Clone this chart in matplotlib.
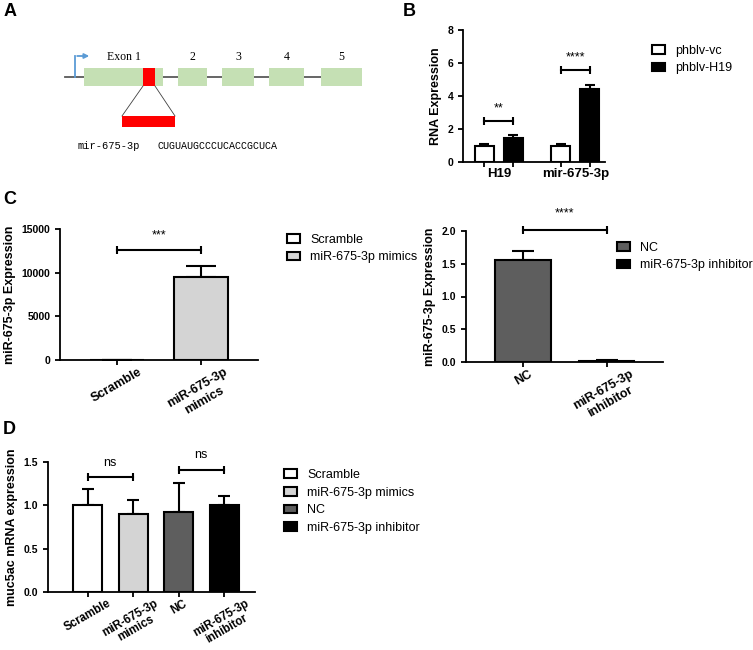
import matplotlib.pyplot as plt
from matplotlib.patches import Patch, Rectangle
from matplotlib.transforms import blended_transform_factory

plt.rcParams['font.family'] = 'Liberation Sans'
plt.rcParams['axes.linewidth'] = 1.3
plt.rcParams['xtick.major.width'] = 1.3
plt.rcParams['ytick.major.width'] = 1.3
plt.rcParams['xtick.major.size'] = 3.5
plt.rcParams['ytick.major.size'] = 3.5
plt.rcParams['xtick.major.pad'] = 1

# Panel A - gene schematic (positions along the locus)
exon_labels = ["Exon 1", "2", "3", "4", "5"]
exon_start = [84, 178, 222, 269, 321]
exon_end = [163, 207, 254, 304, 362]
tss = 75
mir_start, mir_end = 143, 155
mir_zoom = [122, 175]
mir_name = "mir-675-3p"
mir_seq = "CUGUAUGCCCUCACCGCUCA"

# Panel B
b_groups = ["H19", "mir-675-3p"]
b_series = ["phblv-vc", "phblv-H19"]
b_vc = [1.0, 1.0]
b_vc_err = [0.07, 0.1]
b_h19 = [1.45, 4.45]
b_h19_err = [0.17, 0.2]
b_sig = ["**", "****"]
b_sig_y = [2.5, 5.6]

# Panel C left
c1_labels = ["Scramble", "miR-675-3p\nmimics"]
c1_legend = ["Scramble", "miR-675-3p mimics"]
c1_values = [1, 9500]
c1_err = [0, 1300]

# Panel C right
c2_labels = ["NC", "miR-675-3p\ninhibitor"]
c2_legend = ["NC", "miR-675-3p inhibitor"]
c2_values = [1.55, 0.02]
c2_err = [0.14, 0.005]

# Panel D
d_labels = ["Scramble", "miR-675-3p\nmimics", "NC", "miR-675-3p\ninhibitor"]
d_legend = ["Scramble", "miR-675-3p mimics", "NC", "miR-675-3p inhibitor"]
d_values = [1.0, 0.9, 0.92, 1.0]
d_err = [0.19, 0.165, 0.34, 0.11]

c_scr, c_mim, c_nc, c_inh = "white", "#d4d4d4", "#5e5e5e", "black"

W, H = 753, 650
fig = plt.figure(figsize=(W / 100, H / 100), dpi=100)


def box(l, t, r, b):
    return [l / W, 1 - b / H, (r - l) / W, (b - t) / H]


def style(ax):
    ax.spines['top'].set_visible(False)
    ax.spines['right'].set_visible(False)
    for lab in ax.get_yticklabels():
        lab.set_fontweight('bold')
        lab.set_fontsize(7.5)


def bracket(ax, x1, x2, y, ty, text):
    ax.plot([x1, x2], [y, y], color='black', lw=1.5, marker='|', ms=6, mew=1.5, clip_on=False)
    ax.text((x1 + x2) / 2, ty, text, ha='center', va='center', fontsize=9, clip_on=False)


def legend(ax, colors, labels, x, y):
    handles = [Patch(facecolor=c, edgecolor='black', lw=1.5) for c in colors]
    ax.legend(handles, labels, loc='center left', bbox_to_anchor=(x / W, 1 - y / H),
              bbox_transform=fig.transFigure, frameon=False, fontsize=9,
              handlelength=1.05, handleheight=0.7, handletextpad=0.8,
              labelspacing=0.45, borderpad=0, borderaxespad=0)


def letter(s, x, y):
    fig.text(x / W, 1 - y / H, s, fontsize=13, fontweight='bold', ha='left', va='center')


# ---- Panel A ----
axA = fig.add_axes(box(0, 0, 400, 180))
axA.set_xlim(0, 400)
axA.set_ylim(180, 0)
axA.axis('off')
axA.plot([65, exon_start[-1]], [77, 77], color='#595959', lw=1.3, zorder=1)
for s, e, lab in zip(exon_start, exon_end, exon_labels):
    axA.add_patch(Rectangle((s, 68), e - s, 18, facecolor='#c5e0b4', edgecolor='none', zorder=2))
    axA.text((s + e) / 2, 57, lab, ha='center', va='center', fontsize=8.5, family='Liberation Serif')
axA.add_patch(Rectangle((mir_start, 68), mir_end - mir_start, 18, facecolor='red', zorder=3))
axA.plot([mir_start, mir_zoom[0]], [86, 116], color='#404040', lw=0.6)
axA.plot([mir_end, mir_zoom[1]], [86, 116], color='#404040', lw=0.6)
axA.add_patch(Rectangle((mir_zoom[0], 116), mir_zoom[1] - mir_zoom[0], 11, facecolor='red', zorder=3))
axA.plot([tss, tss], [77, 56], color='#5b9bd5', lw=1.3)
axA.annotate('', xy=(tss + 17, 56), xytext=(tss - 0.6, 56),
             arrowprops=dict(arrowstyle='-|>', color='#5b9bd5', lw=1.3, mutation_scale=7))
axA.text(78, 146, mir_name, ha='left', va='center', fontsize=7.5, family='Liberation Mono')
axA.text(157, 146, mir_seq, ha='left', va='center', fontsize=7.2, family='Liberation Mono')
letter("A", 4, 12)

# ---- Panel B ----
axB = fig.add_axes(box(463, 30, 605, 162))
gx = [0, 1]
off = 0.19
bw = 0.245
x_vc = [g - off for g in gx]
x_h = [g + off for g in gx]
axB.errorbar(x_vc, b_vc, yerr=[[0, 0], b_vc_err], fmt='none', ecolor='black', elinewidth=1.5, capsize=3.5, capthick=1.5, zorder=1)
axB.errorbar(x_h, b_h19, yerr=[[0, 0], b_h19_err], fmt='none', ecolor='black', elinewidth=1.5, capsize=3.5, capthick=1.5, zorder=1)
axB.bar(x_vc, b_vc, width=bw, color='white', edgecolor='black', lw=1.5, zorder=2)
axB.bar(x_h, b_h19, width=bw, color='black', edgecolor='black', lw=1.5, zorder=2)
axB.set_xlim(-0.47, 1.39)
axB.set_ylim(0, 8)
axB.set_yticks([0, 2, 4, 6, 8])
axB.set_xticks(x_vc + x_h)
axB.set_xticklabels([])
tr = blended_transform_factory(axB.transData, axB.transAxes)
for g, name in zip(gx, b_groups):
    axB.text(g, -0.045, name, transform=tr, ha='center', va='top', fontsize=9.5, fontweight='bold')
for i, g in enumerate(gx):
    bracket(axB, x_vc[i], x_h[i], b_sig_y[i], b_sig_y[i] + 0.75, b_sig[i])
axB.set_ylabel("RNA Expression", fontsize=9, fontweight='bold', labelpad=4)
style(axB)
legend(axB, ["white", "black"], b_series, 652, 59.5)
letter("B", 403, 12)

# ---- Panel C left ----
axC1 = fig.add_axes(box(60, 229, 258, 360))
xc = [0, 1]
axC1.errorbar(xc, c1_values, yerr=[[0, 0], c1_err], fmt='none', ecolor='black', elinewidth=1.5, capsize=10.5, capthick=1.5, zorder=1)
axC1.bar(xc, c1_values, width=0.64, color=[c_scr, c_mim], edgecolor='black', lw=1.5, zorder=2)
axC1.set_xlim(-0.68, 1.68)
axC1.set_ylim(0, 15000)
axC1.set_yticks([0, 5000, 10000, 15000])
axC1.set_xticks(xc)
axC1.set_xticklabels(c1_labels, rotation=30, ha='center', va='top', fontsize=9, fontweight='bold')
bracket(axC1, 0, 1, 12600, 14300, "***")
axC1.set_ylabel("miR-675-3p Expression", fontsize=9, fontweight='bold', labelpad=4)
style(axC1)
legend(axC1, [c_scr, c_mim], c1_legend, 287, 248.5)
letter("C", 3, 200)

# ---- Panel C right ----
axC2 = fig.add_axes(box(466, 231, 663, 362))
axC2.errorbar(xc, c2_values, yerr=[[0, 0], c2_err], fmt='none', ecolor='black', elinewidth=1.5, capsize=8, capthick=1.5, zorder=1)
axC2.bar(xc, c2_values, width=0.66, color=[c_nc, c_inh], edgecolor='black', lw=1.5, zorder=2)
axC2.set_xlim(-0.68, 1.67)
axC2.set_ylim(0, 2.0)
axC2.set_yticks([0, 0.5, 1.0, 1.5, 2.0])
axC2.set_yticklabels(["0.0", "0.5", "1.0", "1.5", "2.0"])
axC2.set_xticks(xc)
axC2.set_xticklabels(c2_labels, rotation=30, ha='center', va='top', fontsize=9, fontweight='bold')
bracket(axC2, 0, 1, 2.015, 2.27, "****")
axC2.set_ylabel("miR-675-3p Expression", fontsize=9, fontweight='bold', labelpad=4)
style(axC2)
legend(axC2, [c_nc, c_inh], c2_legend, 617, 256.5)

# ---- Panel D ----
axD = fig.add_axes(box(48, 462, 255, 592))
xd = [0, 1, 2, 3]
axD.errorbar(xd, d_values, yerr=[[0] * 4, d_err], fmt='none', ecolor='black', elinewidth=1.5, capsize=4.3, capthick=1.5, zorder=1)
axD.bar(xd, d_values, width=0.64, color=[c_scr, c_mim, c_nc, c_inh], edgecolor='black', lw=1.5, zorder=2)
axD.set_xlim(-0.87, 3.68)
axD.set_ylim(0, 1.5)
axD.set_yticks([0, 0.5, 1.0, 1.5])
axD.set_yticklabels(["0.0", "0.5", "1.0", "1.5"])
axD.set_xticks(xd)
axD.set_xticklabels(d_labels, rotation=30, ha='center', va='top', fontsize=8.3,
                    fontweight='bold', linespacing=1.0)
axD.tick_params(axis='x', pad=0.5)
bracket(axD, 0, 1, 1.33, 1.49, "ns")
bracket(axD, 2, 3, 1.41, 1.58, "ns")
axD.set_ylabel("muc5ac mRNA expression", fontsize=9, fontweight='bold', labelpad=4)
style(axD)
legend(axD, [c_scr, c_mim, c_nc, c_inh], d_legend, 284, 501.5)
letter("D", 3, 430)

fig.savefig("out.png", dpi=100)
